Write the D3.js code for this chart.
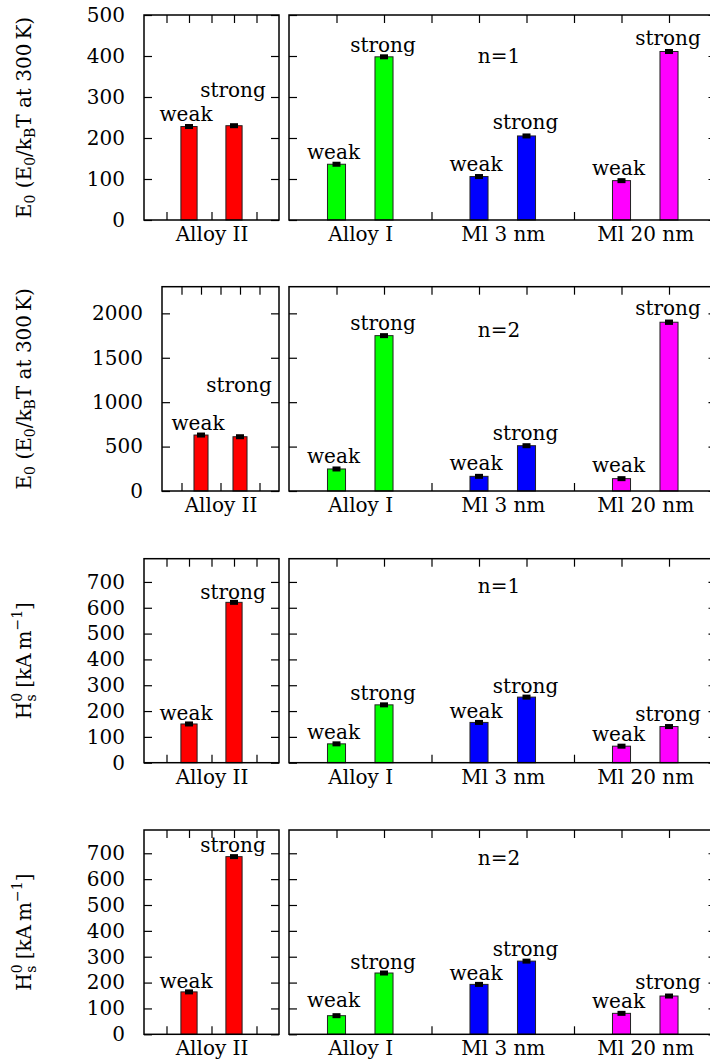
<!DOCTYPE html>
<html>
<head>
<meta charset="utf-8">
<script src="https://cdn.jsdelivr.net/npm/d3@7"></script>
<style>
  html, body { margin: 0; padding: 0; background: #fff; }
  svg { display: block; font-family: "DejaVu Serif", serif; }
</style>
</head>
<body>
<script>
// ---------------- DATA ----------------
const leftCategories = ["Alloy II"];
const rightCategories = ["Alloy I", "Ml 3 nm", "Ml 20 nm"];
const conditions = ["weak", "strong"];
const rowNotes = ["n=1", "n=2", "n=1", "n=2"];

// order: Alloy II weak/strong, Alloy I weak/strong, Ml 3 nm weak/strong, Ml 20 nm weak/strong
const e0n1 = [228, 230, 136, 398, 106, 205, 96, 411];
const e0n2 = [630, 611, 248, 1749, 165, 510, 139, 1900];
const hsn1 = [150, 621, 73, 224, 156, 254, 64, 140];
const hsn2 = [164, 687, 72, 237, 193, 283, 81, 148];

const e0n1Err = [5, 5, 4, 4, 4, 5, 4, 5];
const e0n2Err = [28, 25, 14, 25, 12, 16, 12, 30];
const hsn1Err = [7, 8, 5, 6, 6, 7, 5, 7];
const hsn2Err = [7, 8, 6, 6, 7, 7, 6, 7];

// annotation anchors (data units) for the weak/strong labels and the n= note
const e0n1LabelY = [242, 301, 150, 410, 120, 221, 110, 427];
const e0n2LabelY = [687, 1118, 319, 1813, 236, 574, 210, 1982];
const hsn1LabelY = [166, 633, 91, 241, 173, 270, 84, 163];
const hsn2LabelY = [178, 706, 104, 251, 210, 303, 100, 174];
const noteY = [384, 1738, 659, 655];

const e0Ticks = [0, 100, 200, 300, 400, 500];
const e0n2Ticks = [0, 500, 1000, 1500, 2000];
const hsTicks = [0, 100, 200, 300, 400, 500, 600, 700];
const yMax = [500, 2300, 790, 790];

const barColors = ["#ff0000", "#00ff00", "#0000ff", "#ff00ff"];

// ---------------- LAYOUT ----------------
const W = 710, H = 1064;
const rows = [
  {vals: e0n1, err: e0n1Err, lab: e0n1LabelY, ticks: e0Ticks, top: 15, bottom: 220, leftX: 144, title: "E"},
  {vals: e0n2, err: e0n2Err, lab: e0n2LabelY, ticks: e0n2Ticks, top: 286.7, bottom: 491, leftX: 162, title: "E"},
  {vals: hsn1, err: hsn1Err, lab: hsn1LabelY, ticks: hsTicks, top: 558.7, bottom: 762.7, leftX: 144, title: "H"},
  {vals: hsn2, err: hsn2Err, lab: hsn2LabelY, ticks: hsTicks, top: 830, bottom: 1034.3, leftX: 144, title: "H"}
];
const leftRight = 279, rightLeft = 289, rightRight = 716.5;

const svg = d3.select("body").append("svg").attr("width", W).attr("height", H);

function styleAxis(g) {
  g.select(".domain").remove();
  g.selectAll(".tick line").attr("stroke", "#000").attr("stroke-width", 1.2);
  g.selectAll(".tick text").attr("font-family", "DejaVu Serif").attr("font-size", 20).attr("fill", "#000");
}

rows.forEach((r, ri) => {
  const y = d3.scaleLinear().domain([0, yMax[ri]]).range([r.bottom, r.top]);
  const panels = [
    {x: d3.scaleLinear().domain([0, 6]).range([r.leftX, leftRight]), cats: leftCategories, catPos: [3],
     barPos: [2, 4], topTicks: [1, 2, 3, 4, 5], botTicks: [1, 3, 5], bw: 0.72, idx0: 0, left: true},
    {x: d3.scaleLinear().domain([0, 9]).range([rightLeft, rightRight]), cats: rightCategories, catPos: [1.5, 4.5, 7.5],
     barPos: [1, 2, 4, 5, 7, 8], topTicks: [1, 2, 3, 4, 5, 6, 7, 8], botTicks: [3, 6], bw: 0.38, idx0: 2, left: false}
  ];

  panels.forEach(p => {
    const x = p.x;
    const x0 = x.range()[0], x1 = x.range()[1];
    const g = svg.append("g");

    // ticks
    g.append("g").attr("transform", `translate(${x0},0)`)
      .call(d3.axisLeft(y).tickValues(r.ticks).tickSize(-8).tickPadding(19)
        .tickFormat(p.left ? d3.format("d") : () => ""))
      .call(styleAxis);
    g.append("g").attr("transform", `translate(${x1},0)`)
      .call(d3.axisRight(y).tickValues(r.ticks).tickSize(-8).tickFormat(() => ""))
      .call(styleAxis);
    g.append("g").attr("transform", `translate(0,${r.top})`)
      .call(d3.axisTop(x).tickValues(p.topTicks).tickSize(-8).tickFormat(() => ""))
      .call(styleAxis);
    g.append("g").attr("transform", `translate(0,${r.bottom})`)
      .call(d3.axisBottom(x).tickValues(p.botTicks).tickSize(-8).tickFormat(() => ""))
      .call(styleAxis);
    // category labels
    g.append("g").attr("transform", `translate(0,${r.bottom})`)
      .call(d3.axisBottom(x).tickValues(p.catPos).tickSize(0).tickPadding(7)
        .tickFormat((d, i) => p.cats[i]))
      .call(styleAxis);

    // bars
    const items = p.barPos.map((pos, k) => {
      const idx = p.idx0 + k;
      return {pos, idx, v: r.vals[idx], e: r.err[idx], ly: r.lab[idx],
              cond: conditions[idx % 2], color: barColors[Math.floor(idx / 2)]};
    });
    const bwPx = x(p.bw) - x(0);
    g.selectAll("rect.bar").data(items).join("rect")
      .attr("class", "bar")
      .attr("x", d => x(d.pos) - bwPx / 2)
      .attr("y", d => y(d.v))
      .attr("width", bwPx)
      .attr("height", d => y(0) - y(d.v))
      .attr("fill", d => d.color)
      .attr("stroke", "#222")
      .attr("stroke-width", 1);
    // error caps
    g.selectAll("rect.err").data(items).join("rect")
      .attr("class", "err")
      .attr("x", d => x(d.pos) - 4)
      .attr("y", d => Math.min(y(d.v + d.e), y(d.v) - 2.5))
      .attr("width", 8)
      .attr("height", d => Math.max(5, y(d.v - d.e) - y(d.v + d.e)))
      .attr("fill", "#000");
    // labels
    g.selectAll("text.lab").data(items).join("text")
      .attr("class", "lab")
      .attr("x", d => x(d.pos) + (d.cond === "weak" ? -3 : -1))
      .attr("y", d => y(d.ly))
      .attr("text-anchor", "middle")
      .attr("font-size", 20)
      .attr("fill", "#000")
      .text(d => d.cond);

    // frame
    g.append("rect")
      .attr("x", x0).attr("y", r.top)
      .attr("width", x1 - x0).attr("height", r.bottom - r.top)
      .attr("fill", "none").attr("stroke", "#000").attr("stroke-width", 1.5);

    if (!p.left) {
      g.append("text")
        .attr("x", x(4.42)).attr("y", y(noteY[ri]))
        .attr("text-anchor", "middle").attr("font-size", 20).attr("fill", "#000")
        .text(rowNotes[ri]);
    }
  });

  // y-axis title
  const cy = (r.top + r.bottom) / 2;
  const t = svg.append("text")
    .attr("transform", `translate(31,${cy}) rotate(-90)`)
    .attr("text-anchor", "middle")
    .attr("font-size", 20)
    .attr("fill", "#000");
  if (r.title === "E") {
    t.append("tspan").text("E");
    t.append("tspan").attr("font-size", 14).attr("dy", 4).text("0");
    t.append("tspan").attr("dy", -4).text(" (E");
    t.append("tspan").attr("font-size", 14).attr("dy", 4).text("0");
    t.append("tspan").attr("dy", -4).text("/k");
    t.append("tspan").attr("font-size", 14).attr("dy", 4).text("B");
    t.append("tspan").attr("dy", -4).text("T at 300\u2009K)");
  } else {
    t.append("tspan").text("H");
    t.append("tspan").attr("font-size", 14).attr("dy", -9).text("0");
    t.append("tspan").attr("font-size", 14).attr("dx", -8.5).attr("dy", 14).text("s");
    t.append("tspan").attr("dy", -5).text(" [kA\u2009m");
    t.append("tspan").attr("font-size", 14).attr("dy", -9).text("\u22121");
    t.append("tspan").attr("dy", 9).text("]");
  }
});
</script>
</body>
</html>
